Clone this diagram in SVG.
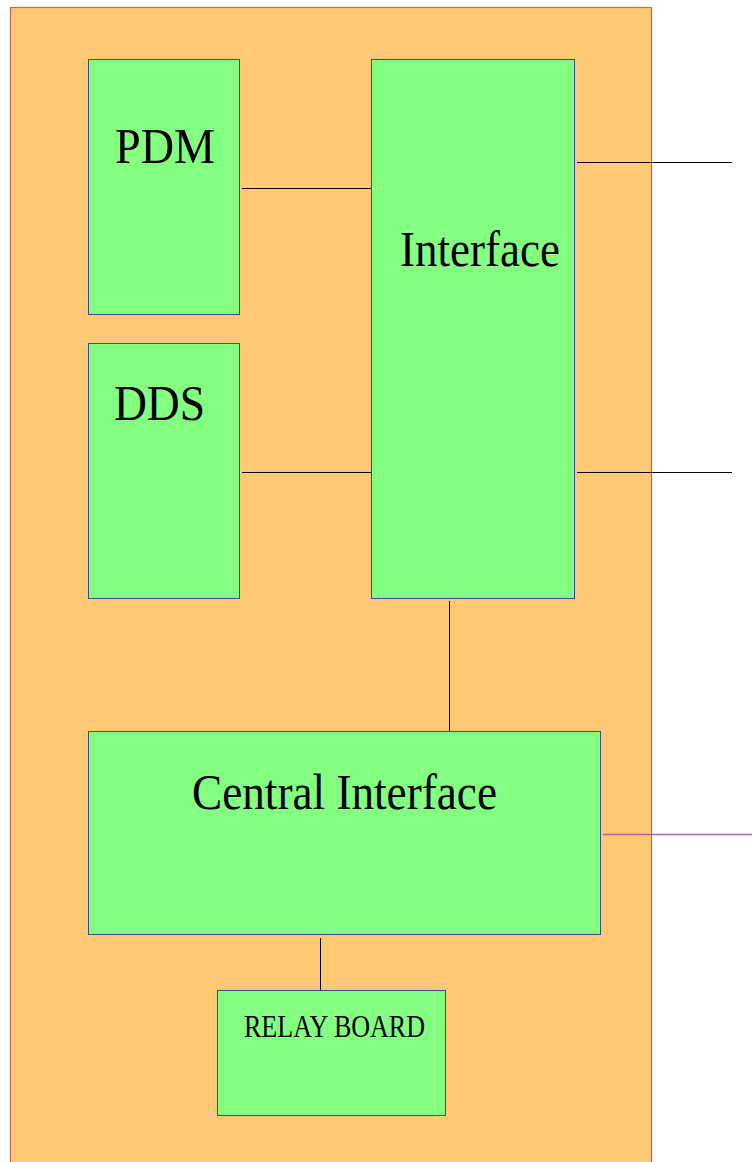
<svg xmlns="http://www.w3.org/2000/svg" width="752" height="1162" viewBox="0 0 752 1162">
<style>
.box{fill:#84fe80;stroke:#3a4a9a;stroke-width:1}
.lbl{font-family:"Liberation Serif","Times New Roman",serif;fill:#000;font-size:50px}
.conn{stroke:#000;stroke-width:1;fill:none}
</style>
<rect width="752" height="1162" fill="#ffffff"/>
<rect id="board" x="10.5" y="7.5" width="641" height="1170" fill="#fdc975" stroke="#bf6a50" stroke-width="1.2"/>
<g id="connectors">
<line class="conn" x1="242" y1="188.5" x2="371" y2="188.5"/>
<line class="conn" x1="242" y1="472.5" x2="371" y2="472.5"/>
<line class="conn" x1="577" y1="162.5" x2="732" y2="162.5"/>
<line class="conn" x1="577" y1="472.5" x2="732" y2="472.5"/>
<line class="conn" x1="449.5" y1="601" x2="449.5" y2="731" stroke="#6a4a20"/>
<line x1="603" y1="834.5" x2="752" y2="834.5" stroke="#b060b0" stroke-width="1.3"/>
<line class="conn" x1="320.5" y1="938" x2="320.5" y2="990" stroke="#5a4a30"/>
</g>
<g id="pdm">
<rect class="box" x="88.5" y="59.5" width="151" height="255"/>
<text class="lbl" x="115" y="163" textLength="100" lengthAdjust="spacingAndGlyphs">PDM</text>
</g>
<g id="dds">
<rect class="box" x="88.5" y="343.5" width="151" height="255"/>
<text class="lbl" x="114" y="420" textLength="91" lengthAdjust="spacingAndGlyphs">DDS</text>
</g>
<g id="interface">
<rect class="box" x="371.5" y="59.5" width="203" height="539"/>
<text class="lbl" x="400" y="266" textLength="160" lengthAdjust="spacingAndGlyphs">Interface</text>
</g>
<g id="central">
<rect class="box" x="88.5" y="731.5" width="512" height="203"/>
<text class="lbl" x="192" y="809" textLength="305" lengthAdjust="spacingAndGlyphs">Central Interface</text>
</g>
<g id="relay">
<rect class="box" x="217.5" y="990.5" width="228" height="125"/>
<text class="lbl" x="244" y="1037" style="font-size:32px" textLength="181" lengthAdjust="spacingAndGlyphs">RELAY BOARD</text>
</g>
</svg>
